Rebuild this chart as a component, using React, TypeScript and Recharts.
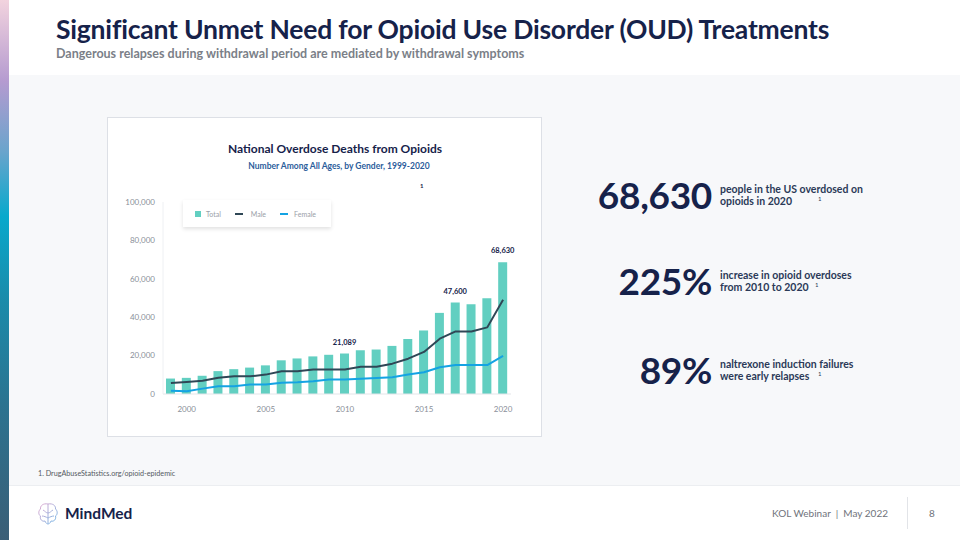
import React from 'react'
import { ComposedChart, Bar, Line, XAxis, YAxis, LabelList } from 'recharts'

const years = [1999, 2000, 2001, 2002, 2003, 2004, 2005, 2006, 2007, 2008, 2009, 2010, 2011, 2012, 2013, 2014, 2015, 2016, 2017, 2018, 2019, 2020]
const total = [8050, 8407, 9496, 11920, 12940, 13756, 14918, 17545, 18516, 19582, 20422, 21089, 22784, 23166, 25052, 28647, 33091, 42249, 47600, 46802, 49860, 68630]
const male = [5700, 6300, 6900, 8500, 9200, 9200, 10100, 11800, 11800, 12800, 12800, 12800, 14200, 14200, 15800, 18400, 21900, 28800, 32600, 32600, 34700, 49100]
const female = [1700, 1400, 2800, 4000, 4000, 4900, 4900, 5900, 6100, 6600, 7600, 7600, 8000, 8300, 8700, 10100, 11300, 13900, 15100, 15100, 15100, 19800]
const labeledYears = [2010, 2017, 2020]
const shownYears = [2000, 2005, 2010, 2015, 2020]
const yTicks = [0, 20000, 40000, 60000, 80000, 100000]

const data = years.map((year, i) => ({ year, total: total[i], male: male[i], female: female[i] }))

const NAVY = '#16224a'
const TEAL = '#62cfc1'
const MALE = '#2f4756'
const FEMALE = '#14a3e3'
const FONT = 'Lato, "Open Sans", sans-serif'

const fmt = (v: number) => v.toLocaleString('en-US')

function YearTick(props: any) {
  const { x, y, payload } = props
  if (!shownYears.includes(payload.value)) return null
  return (
    <text x={x} y={y} dy={8} textAnchor="middle" fontSize={8} fill="#8a8f99" fontFamily={FONT}>{payload.value}</text>
  )
}

function PeakLabel(props: any) {
  const { x, y, width, value, index } = props
  if (!labeledYears.includes(years[index])) return null
  return (
    <text x={x + width / 2} y={y - 9} textAnchor="middle" fontSize={7.5} fontWeight={700} fill={NAVY} fontFamily={FONT}>{fmt(value)}</text>
  )
}

function LegendBox() {
  const item = { display: 'flex', alignItems: 'center', marginRight: 14 } as const
  const txt = { fontSize: 7, color: '#9aa0a8' }
  return (
    <div style={{ position: 'absolute', left: 75, top: 82, width: 148, height: 27, background: '#fff', boxShadow: '0 2px 4px rgba(0,0,0,0.12)', display: 'flex', alignItems: 'center', paddingLeft: 12, boxSizing: 'border-box', fontFamily: FONT }}>
      <div style={item}><span style={{ width: 6, height: 6, background: TEAL, marginRight: 5 }} /><span style={txt}>Total</span></div>
      <div style={item}><span style={{ width: 8, height: 2, background: MALE, marginRight: 8 }} /><span style={txt}>Male</span></div>
      <div style={item}><span style={{ width: 8, height: 2, background: FEMALE, marginRight: 6 }} /><span style={txt}>Female</span></div>
    </div>
  )
}

function Stat({ top, big, lines, supX }: { top: number; big: string; lines: string[]; supX: number }) {
  return (
    <>
      <div style={{ position: 'absolute', left: 540, width: 172, top: top - 2, textAlign: 'right', fontSize: 37, fontWeight: 700, color: NAVY, lineHeight: '38px', letterSpacing: -0.3 }}>{big}</div>
      <div style={{ position: 'absolute', left: 720, top: top + 5, fontSize: 10.5, fontWeight: 700, color: '#2b3a58', lineHeight: '12px' }}>
        {lines.map(l => <div key={l}>{l}</div>)}
      </div>
      <div style={{ position: 'absolute', left: supX, top: top + 17.5, fontSize: 6, lineHeight: '6px', color: '#2b3a58' }}>1</div>
    </>
  )
}

export default function App() {
  return (
    <div style={{ position: 'absolute', left: 0, top: 0, width: 960, height: 540, overflow: 'hidden', background: '#fff', fontFamily: FONT }}>
      <div style={{ position: 'absolute', left: 0, top: 0, width: 9, height: 540, background: 'linear-gradient(180deg, #f2d3de 0%, #b59bd0 15%, #6aa4cc 28%, #08a9cc 40%, #1a8cab 55%, #2b7390 75%, #3b5e76 100%)' }} />
      <div style={{ position: 'absolute', left: 56, top: 13, fontSize: 26.5, fontWeight: 700, color: NAVY, letterSpacing: -0.2 }}>Significant Unmet Need for Opioid Use Disorder (OUD) Treatments</div>
      <div style={{ position: 'absolute', left: 56, top: 46, fontSize: 12.5, fontWeight: 700, color: '#7b7f88' }}>Dangerous relapses during withdrawal period are mediated by withdrawal symptoms</div>

      <div style={{ position: 'absolute', left: 9, top: 75, width: 951, height: 410, background: '#f7f8fa', borderBottom: '1px solid #eceef1' }} />

      <div style={{ position: 'absolute', left: 107, top: 117, width: 435, height: 320, background: '#fff', border: '1px solid #dde0e6', boxSizing: 'border-box' }}>
        <div style={{ position: 'absolute', left: 0, width: 454, top: 23, textAlign: 'center', fontSize: 12, fontWeight: 700, color: NAVY }}>National Overdose Deaths from Opioids</div>
        <div style={{ position: 'absolute', left: 0, width: 462, top: 43, textAlign: 'center', fontSize: 8.5, fontWeight: 700, color: '#2c5d9b' }}>Number Among All Ages, by Gender, 1999-2020</div>
        <div style={{ position: 'absolute', left: 312, top: 64, fontSize: 6, fontWeight: 700, color: NAVY }}>1</div>
        <ComposedChart width={435} height={320} data={data} margin={{ top: 85, right: 31, bottom: 13, left: 0 }} style={{ position: 'absolute', left: -1, top: -1 }}>
          <XAxis dataKey="year" interval={0} tick={<YearTick />} tickLine={false} axisLine={{ stroke: '#e3e5e9' }} height={30} tickMargin={4} />
          <YAxis domain={[0, 100000]} ticks={yTicks} tickFormatter={fmt} width={56} tickLine={false} axisLine={{ stroke: '#eef0f3' }} tick={{ fontSize: 8, fill: '#8a8f99', fontFamily: FONT }} />
          <Bar dataKey="total" name="Total" fill={TEAL} barSize={9} isAnimationActive={false}>
            <LabelList dataKey="total" content={<PeakLabel />} />
          </Bar>
          <Line dataKey="male" name="Male" type="linear" stroke={MALE} strokeWidth={2} strokeLinejoin="round" dot={false} isAnimationActive={false} />
          <Line dataKey="female" name="Female" type="linear" stroke={FEMALE} strokeWidth={2} strokeLinejoin="round" dot={false} isAnimationActive={false} />
        </ComposedChart>
        <LegendBox />
      </div>

      <Stat top={178} big="68,630" lines={['people in the US overdosed on', 'opioids in 2020']} supX={818} />
      <Stat top={264} big="225%" lines={['increase in opioid overdoses', 'from 2010 to 2020']} supX={815} />
      <Stat top={353} big="89%" lines={['naltrexone induction failures', 'were early relapses']} supX={818} />

      <div style={{ position: 'absolute', left: 38, top: 469, fontSize: 7.2, color: '#555a63' }}>1. DrugAbuseStatistics.org/opioid-epidemic</div>

      <svg style={{ position: 'absolute', left: 37, top: 502 }} width={22} height={24} viewBox="0 0 22 24">
        <defs>
          <linearGradient id="lg" x1="0" y1="0" x2="1" y2="1">
            <stop offset="0" stopColor="#e4a9cf" />
            <stop offset="1" stopColor="#6fb6e6" />
          </linearGradient>
        </defs>
        <path d="M11 2 C6 1 3 4 3.5 7 C1 9 1.5 13 3.5 14 C2.5 17 5 20 8 19 C9 22 11 22 11 22 C11 22 13 22 14 19 C17 20 19.5 17 18.5 14 C20.5 13 21 9 18.5 7 C19 4 16 1 11 2 Z M11 2 V22 M6 8 C8 9 9 11 11 11 M16 8 C14 9 13 11 11 11 M5 14 C7 14 9 15 11 16 M17 14 C15 14 13 15 11 16" fill="none" stroke="url(#lg)" strokeWidth={1} />
      </svg>
      <div style={{ position: 'absolute', left: 65, top: 504, fontSize: 15.5, fontWeight: 700, color: NAVY }}>MindMed</div>

      <div style={{ position: 'absolute', right: 72, top: 507, fontSize: 10, color: '#6f737b' }}>KOL Webinar&nbsp;&nbsp;|&nbsp;&nbsp;May 2022</div>
      <div style={{ position: 'absolute', left: 907, top: 497, width: 1, height: 32, background: '#e2e4e8' }} />
      <div style={{ position: 'absolute', left: 929, top: 507, fontSize: 10, color: '#6f737b' }}>8</div>
    </div>
  )
}
